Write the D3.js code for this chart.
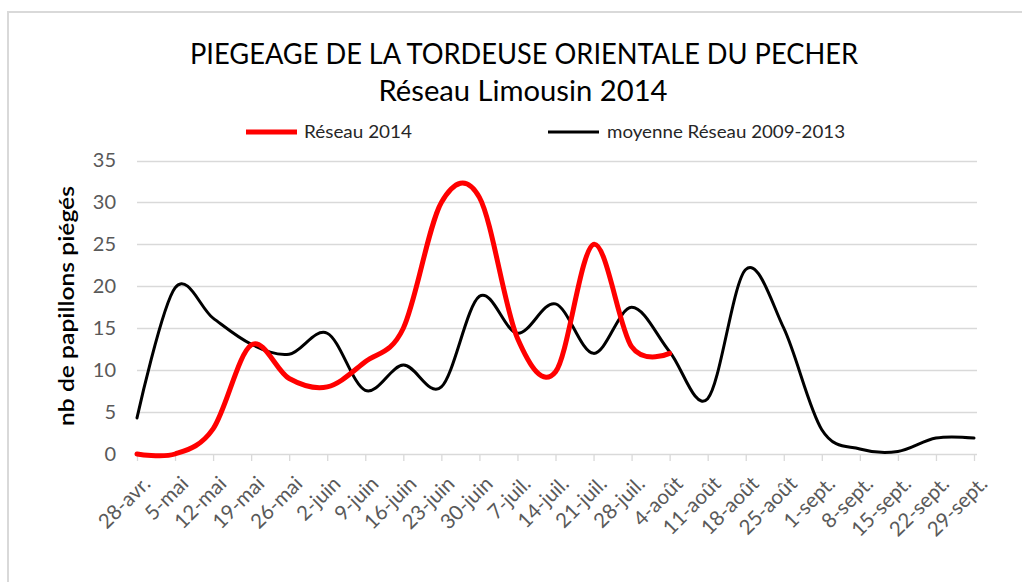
<!DOCTYPE html>
<html>
<head>
<meta charset="utf-8">
<script src="https://cdn.jsdelivr.net/npm/d3@7"></script>
<style>
  html, body { margin: 0; padding: 0; background: #fff; }
  svg { display: block; }
  text { font-family: Lato, "Open Sans", sans-serif; }
</style>
</head>
<body>
<svg id="chart" width="1022" height="582"></svg>
<script>
// ---- data ----
const categories = ["28-avr.","5-mai","12-mai","19-mai","26-mai","2-juin","9-juin","16-juin","23-juin","30-juin","7-juil.","14-juil.","21-juil.","28-juil.","4-août","11-août","18-août","25-août","1-sept.","8-sept.","15-sept.","22-sept.","29-sept."];
const reseau2014 = [0, 0, 3, 13, 9, 8, 11, 15, 30, 30.6, 13.8, 9.8, 25, 12.8, 12, null, null, null, null, null, null, null, null];
const moyenne0913 = [4.3, 19.8, 16.2, 13.1, 11.9, 14.4, 7.6, 10.6, 8.0, 18.8, 14.4, 17.9, 12.0, 17.5, 12.2, 6.6, 22.0, 15.0, 2.9, 0.6, 0.3, 1.9, 1.9];
const yTicks = [0, 5, 10, 15, 20, 25, 30, 35];
const seriesNames = ["Réseau 2014", "moyenne Réseau 2009-2013"];
const titleLines = ["PIEGEAGE DE LA TORDEUSE ORIENTALE DU PECHER", "Réseau Limousin 2014"];
const yTitle = "nb de papillons piégés";

// ---- layout ----
const svg = d3.select("#chart");
const plot = { left: 137, right: 974, top: 160.5, bottom: 454 };

// frame
svg.append("rect").attr("x", 0).attr("y", 0).attr("width", 1022).attr("height", 582).attr("fill", "#fff");
svg.append("line").attr("x1", 7).attr("x2", 1022).attr("y1", 12).attr("y2", 12).attr("stroke", "#d9d9d9").attr("stroke-width", 2);
svg.append("line").attr("x1", 8).attr("x2", 8).attr("y1", 11).attr("y2", 582).attr("stroke", "#d9d9d9").attr("stroke-width", 2);

const x = d3.scalePoint().domain(categories).range([plot.left, plot.right]);
const y = d3.scaleLinear().domain([0, 35]).range([plot.bottom, plot.top]);

function fit(sel, w) {
  sel.each(function () {
    const len = this.getComputedTextLength();
    if (Math.abs(len - w) > 1) {
      d3.select(this).attr("textLength", w).attr("lengthAdjust", "spacingAndGlyphs");
    }
  });
}

// gridlines
svg.append("g").selectAll("line").data(yTicks).join("line")
  .attr("x1", plot.left).attr("x2", plot.right + 3)
  .attr("y1", d => Math.round(y(d)) + 0.5).attr("y2", d => Math.round(y(d)) + 0.5)
  .attr("stroke", "#d9d9d9").attr("stroke-width", 1.3);

// y axis labels
const yAxis = d3.axisLeft(y).tickValues(yTicks).tickSize(0).tickPadding(0);
const gy = svg.append("g").attr("transform", `translate(116,0)`).call(yAxis);
gy.select(".domain").remove();
gy.selectAll("text").attr("font-size", 20).attr("fill", "#595959").attr("font-family", "Lato, sans-serif");

// x axis
const xAxis = d3.axisBottom(x).tickSize(7).tickPadding(0);
const gx = svg.append("g").attr("transform", `translate(0,${plot.bottom})`).call(xAxis);
gx.select(".domain").remove();
gx.selectAll(".tick line").attr("stroke", "#d9d9d9").attr("stroke-width", 1.3);
gx.selectAll(".tick text")
  .attr("font-size", 20.5).attr("fill", "#595959").attr("font-family", "Lato, sans-serif")
  .attr("text-anchor", "end")
  .attr("y", 0).attr("dy", "0.35em")
  .attr("transform", "translate(9,26) rotate(-45)");

// lines
const line = d3.line()
  .defined(d => d[1] != null)
  .x(d => x(d[0])).y(d => y(d[1]))
  .curve(d3.curveCatmullRom.alpha(0));

svg.append("path")
  .datum(categories.map((c, i) => [c, moyenne0913[i]]))
  .attr("d", line).attr("fill", "none").attr("stroke", "#000").attr("stroke-width", 3)
  .attr("stroke-linejoin", "round").attr("stroke-linecap", "round");

svg.append("path")
  .datum(categories.map((c, i) => [c, reseau2014[i]]))
  .attr("d", line).attr("fill", "none").attr("stroke", "#ff0000").attr("stroke-width", 5)
  .attr("stroke-linejoin", "round").attr("stroke-linecap", "round");

// titles
const t1 = svg.append("text").attr("x", 524).attr("y", 64).attr("text-anchor", "middle")
  .attr("font-size", 29).attr("fill", "#000").text(titleLines[0]);
fit(t1, 668);
const t2 = svg.append("text").attr("x", 523).attr("y", 101).attr("text-anchor", "middle")
  .attr("font-size", 29).attr("fill", "#000").text(titleLines[1]);
fit(t2, 289);

// legend
const legend = [
  { name: seriesNames[0], color: "#ff0000", w: 5, x1: 246, x2: 297, tx: 304, tw: 108 },
  { name: seriesNames[1], color: "#000", w: 3, x1: 548, x2: 599, tx: 607, tw: 238 }
];
const lg = svg.append("g");
legend.forEach(l => {
  lg.append("line").attr("x1", l.x1).attr("x2", l.x2).attr("y1", 132).attr("y2", 132)
    .attr("stroke", l.color).attr("stroke-width", l.w);
  const t = lg.append("text").attr("x", l.tx).attr("y", 138).attr("font-size", 17).attr("fill", "#262626").text(l.name);
  fit(t, l.tw);
});

// y title
const yt = svg.append("text")
  .attr("transform", "translate(74,306) rotate(-90)")
  .attr("text-anchor", "middle").attr("font-size", 21).attr("font-weight", 600).attr("fill", "#000")
  .text(yTitle);
fit(yt, 240);
</script>
</body>
</html>
